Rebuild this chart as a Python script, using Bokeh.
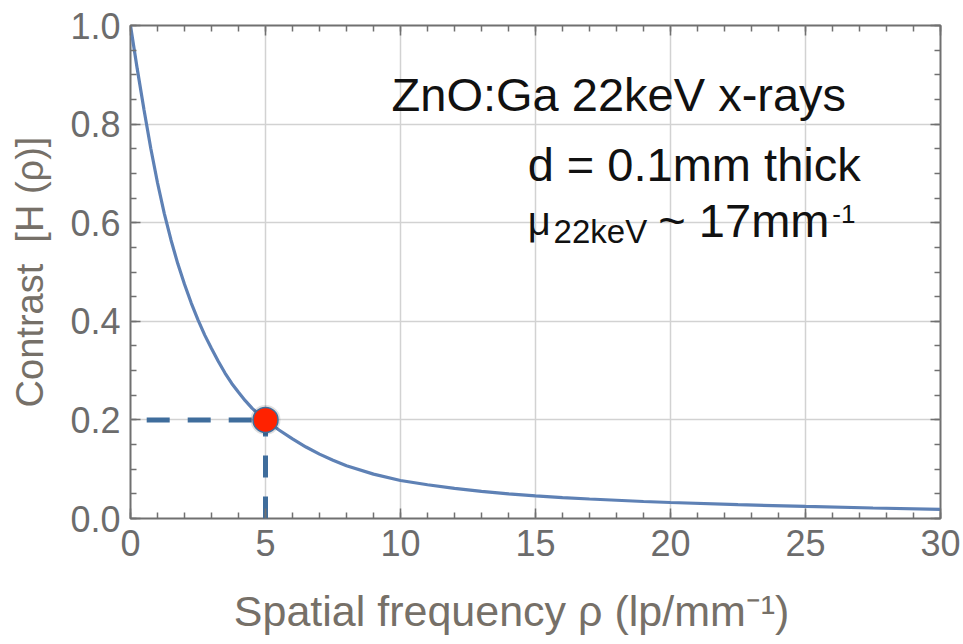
from bokeh.plotting import figure
from bokeh.models import (Range1d, SingleIntervalTicker, PrintfTickFormatter,
                          LinearAxis, Label)
from bokeh.embed import file_html
from bokeh.resources import INLINE

# ---- data ----
rho = [0, 0.25, 0.5, 0.75, 1.0, 1.25, 1.5, 1.75, 2.0, 2.25, 2.5, 2.75, 3.0, 3.25,
       3.5, 3.75, 4.0, 4.25, 4.5, 4.75, 5.0, 5.5, 6.0, 6.5, 7.0, 7.5, 8.0, 9.0,
       10.0, 11.0, 12.0, 13.0, 14.0, 15.0, 16.0, 17.0, 18.0, 19.0, 20.0, 22.5,
       25.0, 27.5, 30.0]
contrast = [1.0, 0.912, 0.829, 0.751, 0.681, 0.619, 0.565, 0.517, 0.475, 0.437,
            0.403, 0.372, 0.345, 0.319, 0.295, 0.274, 0.256, 0.239, 0.224, 0.211,
            0.200, 0.1795, 0.1615, 0.145, 0.1305, 0.118, 0.107, 0.090, 0.077,
            0.0685, 0.061, 0.055, 0.050, 0.046, 0.0425, 0.0395, 0.037, 0.0345,
            0.0325, 0.028, 0.0245, 0.0213, 0.0185]
marker_rho = [5.0]
marker_contrast = [0.2]
guide_start_rho = 0.6

FONT = "Liberation Sans"
GRAY = "#6c6c6c"
LABEL_GRAY = "#767068"
FRAME = "#707070"

p = figure(width=963, height=644, output_backend="svg", toolbar_location=None,
           x_range=Range1d(0, 30), y_range=Range1d(0, 1),
           min_border_left=130, min_border_right=23, min_border_top=25,
           min_border_bottom=126)
p.background_fill_color = "white"
p.border_fill_color = "white"
p.outline_line_color = FRAME
p.outline_line_width = 2

xt = SingleIntervalTicker(interval=5, num_minor_ticks=5)
yt = SingleIntervalTicker(interval=0.2, num_minor_ticks=4)

def style_axis(ax, labels=True):
    ax.axis_line_color = None
    ax.major_tick_in = 10
    ax.major_tick_out = 0
    ax.minor_tick_in = 6
    ax.minor_tick_out = 0
    ax.major_tick_line_color = FRAME
    ax.minor_tick_line_color = FRAME
    ax.major_tick_line_width = 1.5
    ax.minor_tick_line_width = 1.5
    ax.major_label_text_font = FONT
    ax.major_label_text_font_size = "36px"
    if labels:
        ax.major_label_text_color = GRAY
    else:
        ax.major_label_text_color = None
        ax.major_label_text_alpha = 0
    ax.axis_label_text_font = FONT
    ax.axis_label_text_color = LABEL_GRAY
    ax.axis_label_text_font_style = "normal"

p.xaxis.ticker = xt
p.yaxis.ticker = yt
p.yaxis.formatter = PrintfTickFormatter(format="%.1f")
for ax in p.xaxis + p.yaxis:
    style_axis(ax)
p.xaxis.major_label_standoff = 11
p.yaxis.major_label_standoff = 10
p.xaxis.axis_label = "Spatial frequency ρ (lp/mm⁻¹)" + "\u00a0" * 4
p.xaxis.axis_label_text_font_size = "43px"
p.xaxis.axis_label_standoff = 28
p.yaxis.axis_label = "Contrast\u00a0\u00a0[H (ρ)]"
p.yaxis.axis_label_text_font_size = "38px"
p.yaxis.axis_label_standoff = 16

top = LinearAxis(ticker=SingleIntervalTicker(interval=5, num_minor_ticks=5))
right = LinearAxis(ticker=SingleIntervalTicker(interval=0.2, num_minor_ticks=4))
style_axis(top, labels=False)
style_axis(right, labels=False)
p.add_layout(top, "above")
p.add_layout(right, "right")

p.xgrid.ticker = xt
p.ygrid.ticker = yt
for g in (p.xgrid, p.ygrid):
    g.grid_line_color = "#d2d2d2"
    g.grid_line_width = 1.5

# curve
p.line(rho, contrast, line_color="#5e81b5", line_width=3.2)

# dashed guides
DASH = "#3f6d9c"
p.line([guide_start_rho, marker_rho[0]], [marker_contrast[0], marker_contrast[0]],
       line_color=DASH, line_width=5, line_dash="23 18")
p.line([marker_rho[0], marker_rho[0]], [0, marker_contrast[0]],
       line_color=DASH, line_width=5, line_dash="22 19")

# marker with soft shadow
p.scatter(marker_rho, marker_contrast, size=30, fill_color="#000000", fill_alpha=0.12,
          line_color=None)
p.scatter(marker_rho, marker_contrast, size=25, fill_color="#ff2200",
          line_color="#3f6d9c", line_width=1.5)

# annotations
def lab(x, y, t, size, color="#111111"):
    p.add_layout(Label(x=x, y=y, text=t, text_font=FONT, text_font_size=size,
                       text_color=color, text_align="left",
                       text_baseline="alphabetic"))

lab(9.67, 0.861, "ZnO:Ga 22keV x-rays", "47px")
lab(14.71, 0.719, "d = 0.1mm thick", "47px")
lab(14.71, 0.603, "μ", "40px")
lab(15.67, 0.583, "22keV", "33px")
lab(19.55, 0.605, "~ 17mm", "47px")
lab(25.99, 0.617, "-1", "26px")

open("out.html", "w").write(file_html(p, INLINE))
